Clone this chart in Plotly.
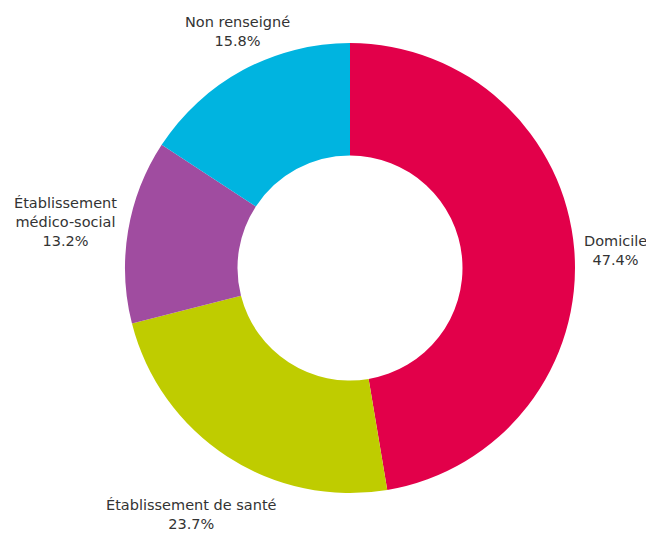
import plotly.graph_objects as go

labels = ["Domicile", "Établissement de santé", "Établissement<br>médico-social", "Non renseigné"]
values = [47.4, 23.7, 13.2, 15.8]
colors = ["#E2004A", "#BFCC00", "#A04CA0", "#00B4E0"]

# Figure is drawn inside the page body (8px margin); size it so it ends at the window edge
W, H = 646, 525
OFF = 8

def px(x):
    return (x - OFF) / W

def py(y):
    return 1 - (y - OFF) / H

cx, cy, R = 350, 268, 225

fig = go.Figure(go.Pie(
    labels=labels,
    values=values,
    hole=0.5,
    sort=False,
    direction="clockwise",
    rotation=0,
    marker=dict(colors=colors, line=dict(width=0)),
    textinfo="none",
    showlegend=False,
    hoverinfo="label+percent",
    domain=dict(x=[px(cx - R), px(cx + R)], y=[py(cy + R), py(cy - R)]),
))

# label positions (screen pixels) — layout only
label_pos = [(615, 250), (191, 514), (65, 222), (237, 31)]

for lab, val, (lx, ly) in zip(labels, values, label_pos):
    fig.add_annotation(
        x=px(lx), y=py(ly), xref="paper", yref="paper",
        text=f"{lab}<br>{val:.1f}%",
        showarrow=False, xanchor="center", yanchor="middle", align="center",
        font=dict(family="DejaVu Sans", size=14.5, color="#333333"),
    )

fig.update_layout(
    width=W, height=H,
    margin=dict(l=0, r=0, t=0, b=0),
    paper_bgcolor="white",
    plot_bgcolor="white",
)

fig.write_html("out.html")
